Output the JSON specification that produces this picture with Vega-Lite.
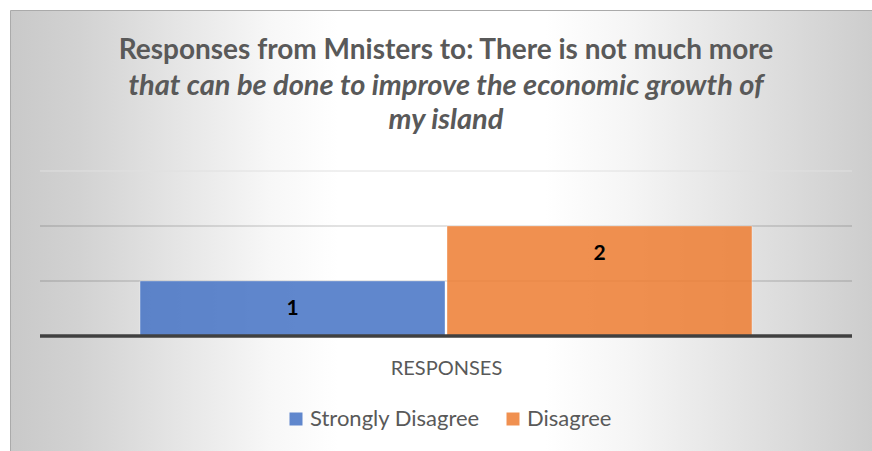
{
  "$schema": "https://vega.github.io/schema/vega-lite/v6.json",
  "width": 862,
  "height": 441,
  "autosize": {"type": "none"},
  "padding": {"left": 10, "top": 10, "right": 0, "bottom": 0},
  "background": "white",
  "view": {
    "fill": {
      "gradient": "linear",
      "x1": 0, "y1": 0, "x2": 1, "y2": 0,
      "stops": [
        {"offset": 0, "color": "#c9c9c9"},
        {"offset": 0.08, "color": "#d2d2d2"},
        {"offset": 0.3, "color": "#f7f7f7"},
        {"offset": 0.38, "color": "#ffffff"},
        {"offset": 0.62, "color": "#ffffff"},
        {"offset": 0.72, "color": "#f5f5f5"},
        {"offset": 1, "color": "#cdcdcd"}
      ]
    },
    "stroke": "#aaaaaa",
    "strokeWidth": 1
  },
  "title": {
    "text": "Responses from Mnisters to: There is not much more",
    "subtitle": ["that can be done to improve the economic growth of", "my island"],
    "anchor": "middle",
    "frame": "group",
    "orient": "top",
    "offset": -125,
    "dx": 5,
    "font": "Lato",
    "fontSize": 28,
    "fontWeight": "bold",
    "color": "#595959",
    "lineHeight": 34,
    "subtitleFont": "Lato",
    "subtitleFontSize": 29,
    "subtitleFontWeight": "bold",
    "subtitleFontStyle": "italic",
    "subtitleColor": "#595959",
    "subtitleLineHeight": 34,
    "subtitlePadding": 7
  },
  "data": {
    "values": [
      {"cat": "RESPONSES", "series": "Strongly Disagree", "value": 1},
      {"cat": "RESPONSES", "series": "Disagree", "value": 2}
    ]
  },
  "layer": [
    {
      "data": {"values": [{"cat": "RESPONSES", "g": 1}, {"cat": "RESPONSES", "g": 2}]},
      "mark": {"type": "rule", "color": "black", "opacity": 0.23, "strokeWidth": 1},
      "encoding": {
        "x": {"field": "cat", "type": "nominal", "bandPosition": 0,
              "scale": {"paddingInner": 0, "paddingOuter": 0.0308, "align": 0.6},
              "axis": {"labels": false, "ticks": false, "domain": false, "title": "RESPONSES",
                       "titleFont": "Lato", "titleFontSize": 20, "titleFontWeight": "normal",
                       "titleColor": "#595959", "titleX": 436, "titleY": -77, "titleBaseline": "alphabetic"}},
        "x2": {"field": "cat", "bandPosition": 1},
        "y": {"field": "g", "type": "quantitative",
              "scale": {"domain": [-2.0909, 5.9273], "nice": false, "zero": false}, "axis": null}
      }
    },
    {
      "data": {"values": [{"cat": "RESPONSES", "g": 3}]},
      "mark": {"type": "rule", "color": "#e0e0e0", "strokeWidth": 1},
      "encoding": {
        "x": {"field": "cat", "type": "nominal", "bandPosition": 0},
        "x2": {"field": "cat", "bandPosition": 1},
        "y": {"field": "g", "type": "quantitative",
              "scale": {"domain": [-2.0909, 5.9273], "nice": false, "zero": false}, "axis": null}
      }
    },
    {
      "mark": {"type": "bar", "fillOpacity": 0.85, "stroke": "white", "strokeOpacity": 0.35, "strokeWidth": 1},
      "encoding": {
        "x": {"field": "cat", "type": "nominal"},
        "xOffset": {"field": "series", "type": "nominal", "sort": ["Strongly Disagree", "Disagree"],
                    "scale": {"paddingInner": 0.006515, "paddingOuter": 0.3258}},
        "y": {"field": "value", "type": "quantitative",
              "scale": {"domain": [-2.0909, 5.9273], "nice": false, "zero": false}, "axis": null},
        "y2": {"datum": 0},
        "color": {"field": "series", "type": "nominal",
                  "scale": {"domain": ["Strongly Disagree", "Disagree"], "range": ["#4472C4", "#ED7D31"]},
                  "legend": {"title": null, "orient": "none", "direction": "horizontal",
                             "legendX": 275, "legendY": 398, "padding": 0,
                             "symbolType": "square", "symbolSize": 169, "symbolStrokeWidth": 0,
                             "symbolOpacity": 0.85,
                             "labelFont": "Lato", "labelFontSize": 22, "labelColor": "#595959",
                             "labelOffset": 3, "columnPadding": 22, "labelLimit": 400}}
      }
    },
    {
      "data": {"values": [{"cat": "RESPONSES", "b": 0}]},
      "mark": {"type": "rule", "color": "#404040", "strokeWidth": 3.5},
      "encoding": {
        "x": {"field": "cat", "type": "nominal", "bandPosition": 0},
        "x2": {"field": "cat", "bandPosition": 1},
        "y": {"field": "b", "type": "quantitative",
              "scale": {"domain": [-2.0909, 5.9273], "nice": false, "zero": false}, "axis": null}
      }
    },
    {
      "mark": {"type": "text", "font": "Lato", "fontSize": 21, "fontWeight": "bold", "color": "black",
               "baseline": "middle", "dy": 28},
      "encoding": {
        "x": {"field": "cat", "type": "nominal"},
        "xOffset": {"field": "series", "type": "nominal", "sort": ["Strongly Disagree", "Disagree"]},
        "y": {"field": "value", "type": "quantitative",
              "scale": {"domain": [-2.0909, 5.9273], "nice": false, "zero": false}, "axis": null},
        "text": {"field": "value", "type": "quantitative"}
      }
    }
  ]
}
